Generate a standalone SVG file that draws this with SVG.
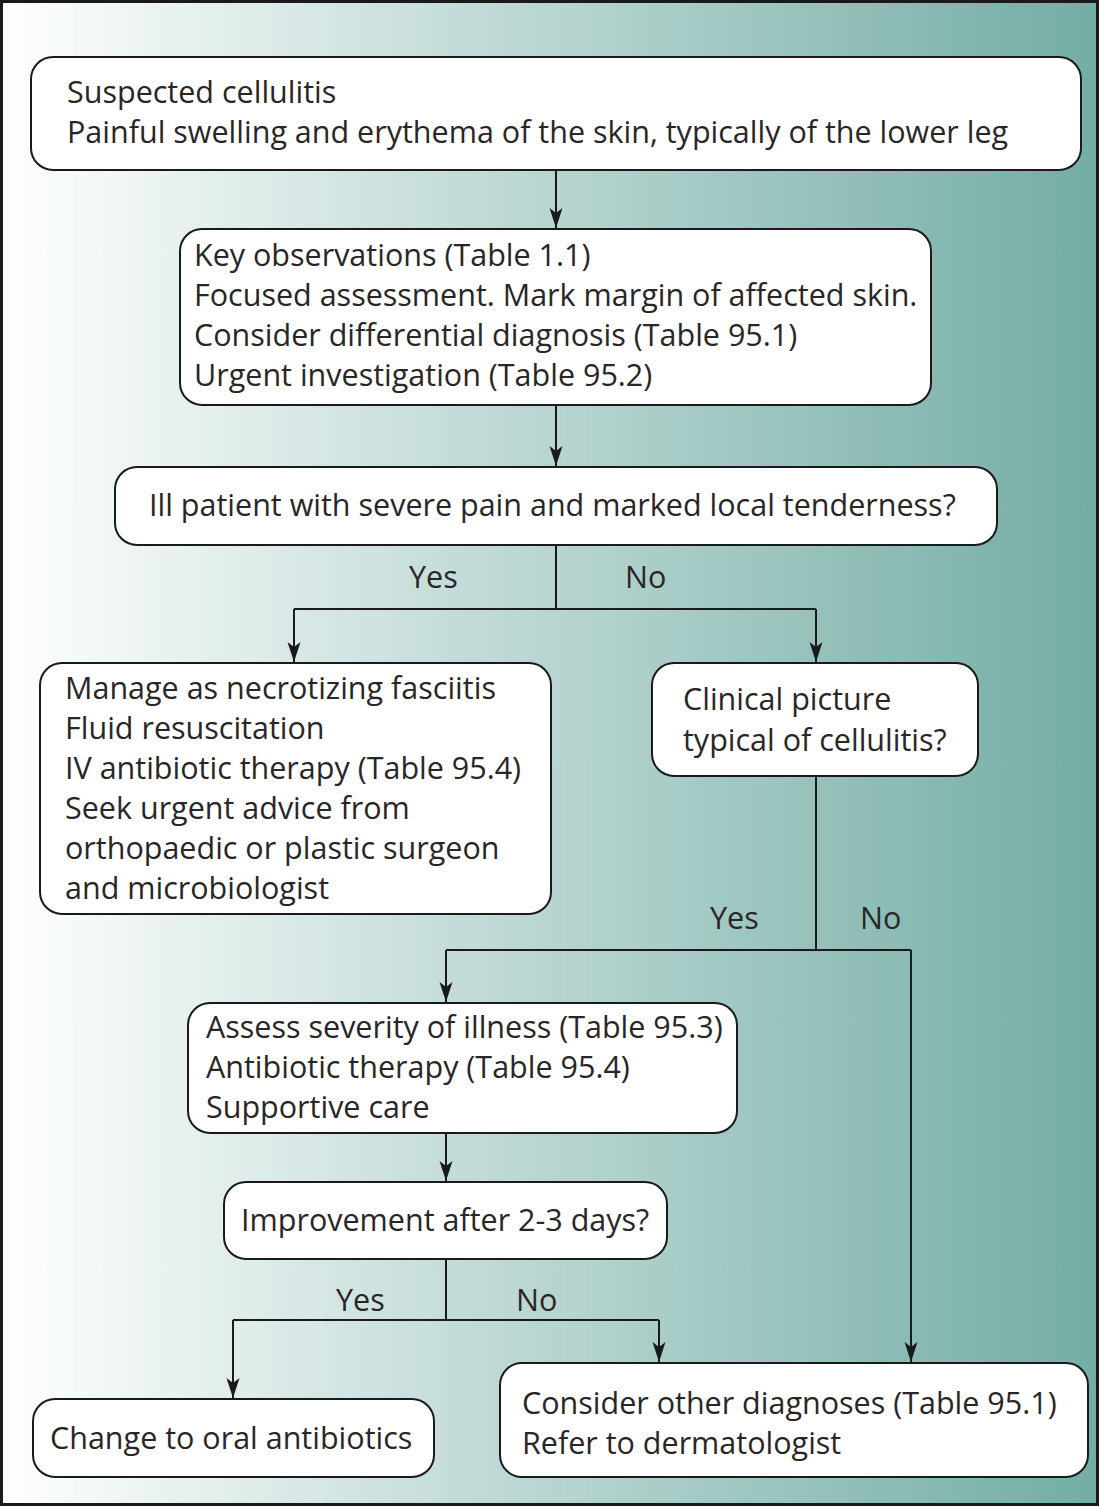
<svg xmlns="http://www.w3.org/2000/svg" width="1100" height="1507" viewBox="0 0 1100 1507">
<defs>
<linearGradient id="bg" x1="0" y1="0" x2="1" y2="0">
<stop offset="0" stop-color="#ffffff"/>
<stop offset="0.5" stop-color="#b8d5d1"/>
<stop offset="1" stop-color="#72ada4"/>
</linearGradient>
<marker id="ah" viewBox="0 0 20 14" refX="20" refY="7" markerWidth="20" markerHeight="14" markerUnits="userSpaceOnUse" orient="auto">
<path d="M0,0.5 L5,7 L0,13.5 L20,7 Z" fill="#1a1a1a"/>
</marker>
</defs>
<style>
.box{fill:#ffffff;stroke:#1a1a1a;stroke-width:2}
.t{font-family:"Open Sans","Noto Sans","DejaVu Sans",sans-serif;font-size:30.5px;fill:#2a2627}
.c{fill:none;stroke:#1a1a1a;stroke-width:2}
</style>
<rect x="1.5" y="1.5" width="1096" height="1503" fill="url(#bg)" stroke="#1a1a1a" stroke-width="3"/>
<g id="connectors">
<path class="c" d="M556,170 V228" marker-end="url(#ah)"/>
<path class="c" d="M556,405 V466" marker-end="url(#ah)"/>
<path class="c" d="M556,545 V609"/>
<path class="c" d="M294,609 H816"/>
<path class="c" d="M294,609 V662" marker-end="url(#ah)"/>
<path class="c" d="M816,609 V662" marker-end="url(#ah)"/>
<path class="c" d="M816,776 V950"/>
<path class="c" d="M446,950 H911"/>
<path class="c" d="M446,950 V1002" marker-end="url(#ah)"/>
<path class="c" d="M911,950 V1362" marker-end="url(#ah)"/>
<path class="c" d="M446,1133 V1181" marker-end="url(#ah)"/>
<path class="c" d="M446,1259 V1320"/>
<path class="c" d="M233,1320 H659"/>
<path class="c" d="M233,1320 V1398" marker-end="url(#ah)"/>
<path class="c" d="M659,1320 V1362" marker-end="url(#ah)"/>
<text class="t" x="409" y="588">Yes</text>
<text class="t" x="625" y="588">No</text>
<text class="t" x="710" y="929">Yes</text>
<text class="t" x="860" y="929">No</text>
<text class="t" x="336" y="1311">Yes</text>
<text class="t" x="516" y="1311">No</text>
</g>
<g id="n1">
<rect class="box" x="31" y="57" width="1050" height="113" rx="22"/>
<text class="t" x="67" y="103">Suspected cellulitis</text>
<text class="t" x="67" y="143">Painful swelling and erythema of the skin, typically of the lower leg</text>
</g>
<g id="n2">
<rect class="box" x="180" y="229" width="751" height="176" rx="22"/>
<text class="t" x="194" y="266">Key observations (Table 1.1)</text>
<text class="t" x="194" y="306">Focused assessment. Mark margin of affected skin.</text>
<text class="t" x="194" y="346">Consider differential diagnosis (Table 95.1)</text>
<text class="t" x="194" y="386">Urgent investigation (Table 95.2)</text>
</g>
<g id="n3">
<rect class="box" x="115" y="467" width="882" height="78" rx="22"/>
<text class="t" x="149" y="516">Ill patient with severe pain and marked local tenderness?</text>
</g>
<g id="n4">
<rect class="box" x="40" y="663" width="511" height="251" rx="22"/>
<text class="t" x="65" y="699">Manage as necrotizing fasciitis</text>
<text class="t" x="65" y="739">Fluid resuscitation</text>
<text class="t" x="65" y="779">IV antibiotic therapy (Table 95.4)</text>
<text class="t" x="65" y="819">Seek urgent advice from</text>
<text class="t" x="65" y="859">orthopaedic or plastic surgeon</text>
<text class="t" x="65" y="899">and microbiologist</text>
</g>
<g id="n5">
<rect class="box" x="652" y="663" width="326" height="113" rx="22"/>
<text class="t" x="683" y="710">Clinical picture</text>
<text class="t" x="683" y="751">typical of cellulitis?</text>
</g>
<g id="n6">
<rect class="box" x="188" y="1003" width="549" height="130" rx="22"/>
<text class="t" x="206" y="1038">Assess severity of illness (Table 95.3)</text>
<text class="t" x="206" y="1078">Antibiotic therapy (Table 95.4)</text>
<text class="t" x="206" y="1118">Supportive care</text>
</g>
<g id="n7">
<rect class="box" x="224" y="1182" width="443" height="77" rx="22"/>
<text class="t" x="241" y="1231">Improvement after 2-3 days?</text>
</g>
<g id="n8">
<rect class="box" x="33" y="1399" width="401" height="78" rx="22"/>
<text class="t" x="50" y="1449">Change to oral antibiotics</text>
</g>
<g id="n9">
<rect class="box" x="500" y="1363" width="588" height="114" rx="22"/>
<text class="t" x="522" y="1414">Consider other diagnoses (Table 95.1)</text>
<text class="t" x="522" y="1454">Refer to dermatologist</text>
</g>
</svg>
